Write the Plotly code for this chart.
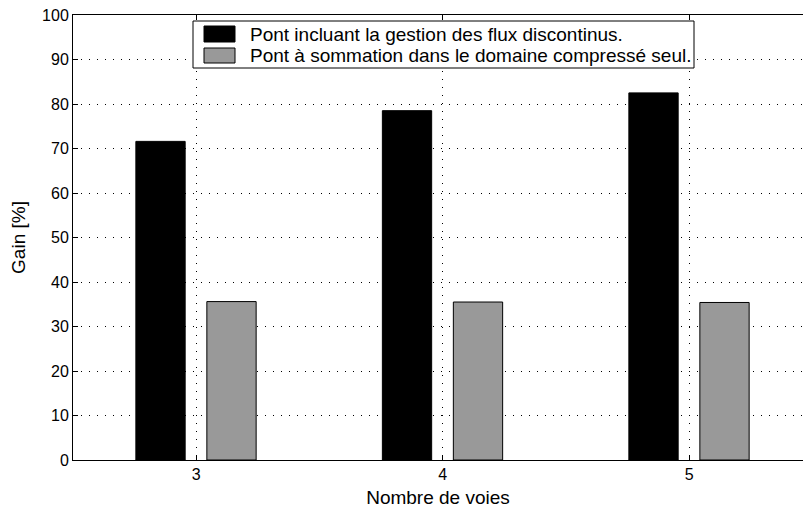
import plotly.graph_objects as go

categories = [3, 4, 5]
series_names = ["Pont incluant la gestion des flux discontinus.",
                "Pont à sommation dans le domaine compressé seul."]
gain_discontinus = [71.6, 78.5, 82.5]
gain_compresse = [35.6, 35.5, 35.4]
y_ticks = list(range(0, 101, 10))

W, H = 803, 508
L, T = 73, 15
PLOT_BOTTOM = 460
B = H - PLOT_BOTTOM
PW, PH = W - L, PLOT_BOTTOM - T
FONT = "Liberation Sans, Arial, Helvetica, sans-serif"
FS_TICK = 16
FS_TITLE = 19
FS_LEG = 19

def px(x):
    return (x - L) / PW

def py(y):
    return (PLOT_BOTTOM - y) / PH

fig = go.Figure()
fig.add_trace(go.Bar(x=categories, y=gain_discontinus, name=series_names[0],
                     width=0.2, offset=-0.245,
                     marker=dict(color="black", line=dict(color="black", width=1)),
                     showlegend=False))
fig.add_trace(go.Bar(x=categories, y=gain_compresse, name=series_names[1],
                     width=0.2, offset=0.043,
                     marker=dict(color="#999999", line=dict(color="black", width=1)),
                     showlegend=False))

# legend drawn manually (window-pixel positions)
shapes = [
    dict(type="rect", xref="paper", yref="paper", x0=px(193), x1=px(694), y0=py(21), y1=py(68),
         fillcolor="white", line=dict(color="black", width=1), layer="above"),
    dict(type="rect", xref="paper", yref="paper", x0=px(204), x1=px(235), y0=py(26), y1=py(42),
         fillcolor="black", line=dict(color="black", width=1), layer="above"),
    dict(type="rect", xref="paper", yref="paper", x0=px(204), x1=px(235), y0=py(48), y1=py(63),
         fillcolor="#999999", line=dict(color="black", width=1), layer="above"),
]
annotations = [
    dict(xref="paper", yref="paper", x=px(248), y=py(34), text=series_names[0], showarrow=False,
         xanchor="left", yanchor="middle", font=dict(family=FONT, size=FS_LEG, color="black")),
    dict(xref="paper", yref="paper", x=px(248), y=py(55.5), text=series_names[1], showarrow=False,
         xanchor="left", yanchor="middle", font=dict(family=FONT, size=FS_LEG, color="black")),
]

fig.update_layout(
    width=W, height=H,
    margin=dict(l=L, r=0, t=T, b=B, pad=0, autoexpand=False),
    plot_bgcolor="white", paper_bgcolor="white",
    font=dict(family=FONT, size=FS_TICK, color="black"),
    shapes=shapes, annotations=annotations,
    xaxis=dict(range=[2.5, 2.5 + PW / 246.5], tickmode="array", tickvals=categories,
               ticktext=[str(c) for c in categories],
               showline=True, linecolor="black", linewidth=1, mirror="ticks",
               ticks="inside", ticklen=5, tickcolor="black",
               showgrid=True, gridcolor="black", gridwidth=1, griddash="1px,7px",
               zeroline=False, automargin=False, ticklabeloverflow="allow",
               title=dict(text="Nombre de voies", standoff=13, font=dict(size=FS_TITLE))),
    yaxis=dict(range=[0, 100], tickmode="array", tickvals=y_ticks,
               showline=True, linecolor="black", linewidth=1, mirror=False,
               ticks="inside", ticklen=5, tickcolor="black",
               showgrid=True, gridcolor="black", gridwidth=1, griddash="1px,7px",
               zeroline=False, automargin=False, ticklabeloverflow="allow",
               title=dict(text="Gain [%]", standoff=11, font=dict(size=FS_TITLE))),
)

fig.write_html("out.html", config={"displayModeBar": False},
               post_script="document.body.style.margin='0';document.body.style.overflow='hidden';")
